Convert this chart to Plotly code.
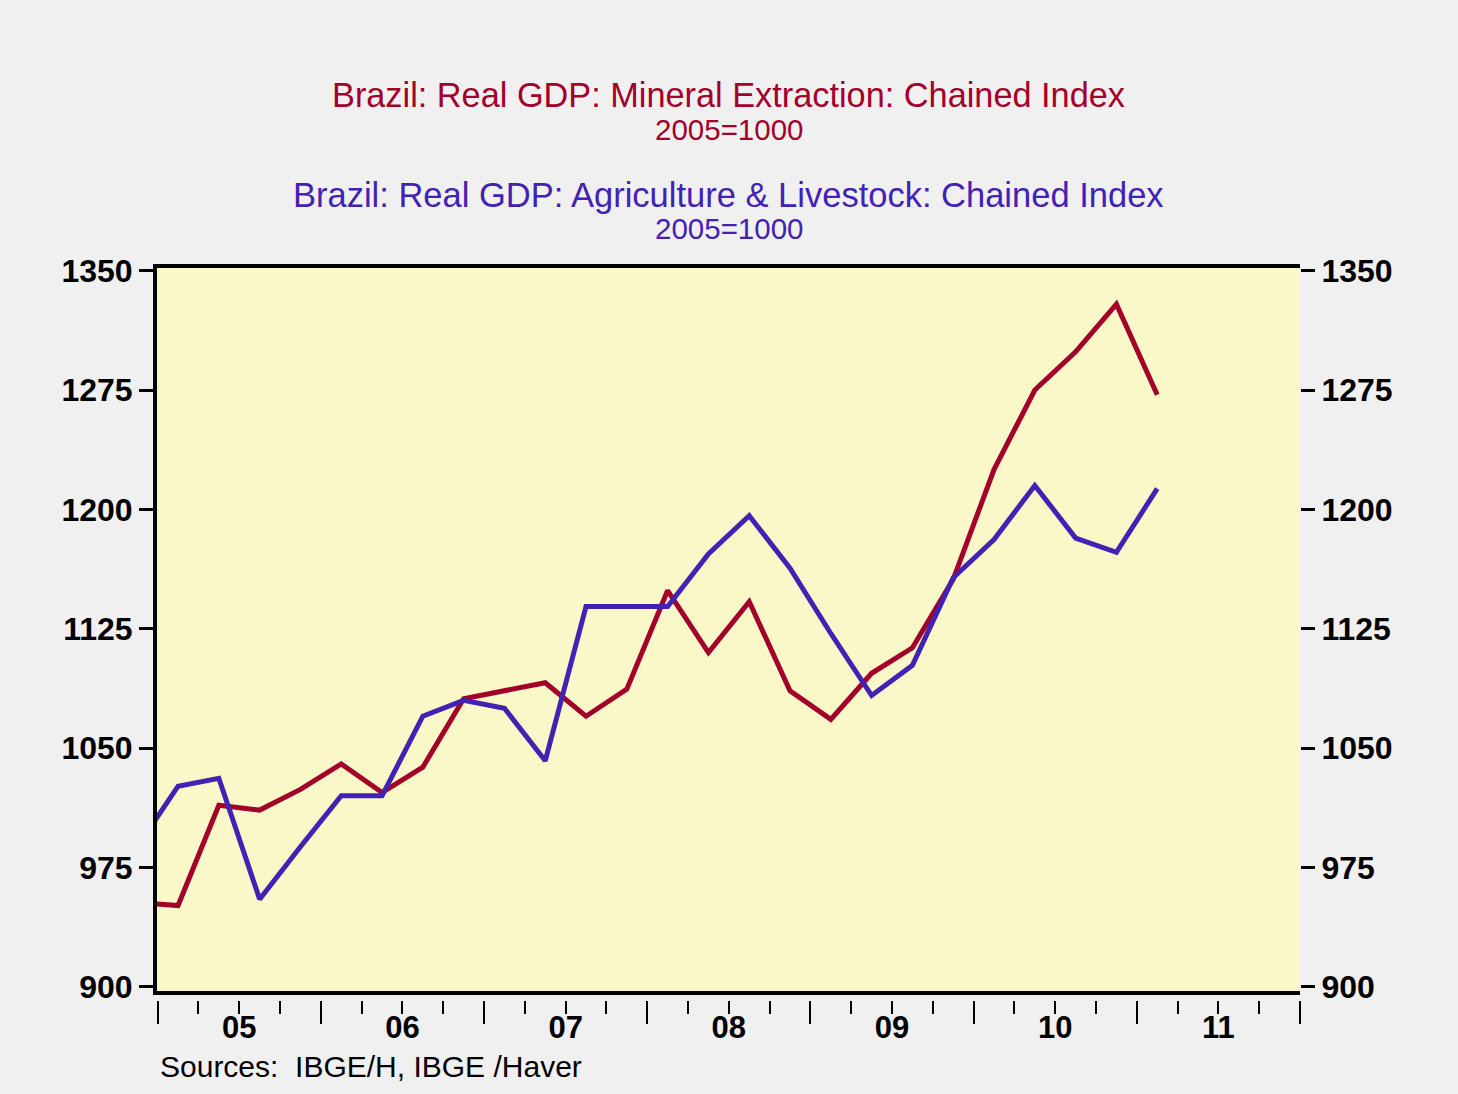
import plotly.graph_objects as go

quarters = ["2004Q4",
            "2005Q1", "2005Q2", "2005Q3", "2005Q4",
            "2006Q1", "2006Q2", "2006Q3", "2006Q4",
            "2007Q1", "2007Q2", "2007Q3", "2007Q4",
            "2008Q1", "2008Q2", "2008Q3", "2008Q4",
            "2009Q1", "2009Q2", "2009Q3", "2009Q4",
            "2010Q1", "2010Q2", "2010Q3", "2010Q4",
            "2011Q1"]

mineral = [953,
           951, 1014, 1011, 1024,
           1040, 1022, 1038, 1081,
           1086, 1091, 1070, 1087,
           1149, 1110, 1142, 1086,
           1068, 1097, 1113, 1156,
           1225, 1275, 1299, 1329,
           1272]

agri = [988,
        1026, 1031, 955, 988,
        1020, 1020, 1070, 1080,
        1075, 1042, 1139, 1139,
        1139, 1172, 1196, 1163,
        1122, 1083, 1102, 1157,
        1181, 1215, 1182, 1173,
        1213]

year_ticks = [2005, 2006, 2007, 2008, 2009, 2010, 2011, 2012]
year_label_pos = [2005.5, 2006.5, 2007.5, 2008.5, 2009.5, 2010.5, 2011.5]
year_labels = ["05", "06", "07", "08", "09", "10", "11"]
y_ticks = [900, 975, 1050, 1125, 1200, 1275, 1350]

title1 = "Brazil: Real GDP: Mineral Extraction: Chained Index"
title2 = "Brazil: Real GDP: Agriculture & Livestock: Chained Index"
subtitle = "2005=1000"
source = "Sources:  IBGE/H, IBGE /Haver"

RED = "#A3002A"
BLUE = "#4222B4"
FONT = "Arial, Liberation Sans, sans-serif"


def q_to_x(q):
    y, qq = q.split("Q")
    return int(y) + (int(qq) - 0.5) / 4.0


xs = [q_to_x(q) for q in quarters]

XR = [2004.996, 2012.0]
YR = [897.3, 1351.7]

W, H = 1458, 1094
ML, MR, MT = 157, 158, 268
REG_BOTTOM = 1090
MB = H - REG_BOTTOM
reg_h = REG_BOTTOM - MT


def py(pix):
    return (REG_BOTTOM - pix) / reg_h


fig = go.Figure()
fig.add_trace(go.Scatter(x=xs, y=mineral, mode="lines", line=dict(color=RED, width=5),
                         showlegend=False, hoverinfo="skip"))
fig.add_trace(go.Scatter(x=xs, y=agri, mode="lines", line=dict(color=BLUE, width=5),
                         showlegend=False, hoverinfo="skip"))
# helper traces so the overlay axes are drawn
fig.add_trace(go.Scatter(x=[2005], y=[None], xaxis="x2", yaxis="y", showlegend=False, hoverinfo="skip"))
fig.add_trace(go.Scatter(x=[2005], y=[None], xaxis="x3", yaxis="y", showlegend=False, hoverinfo="skip"))
fig.add_trace(go.Scatter(x=[2005], y=[None], xaxis="x", yaxis="y2", showlegend=False, hoverinfo="skip"))

ydom = [py(991), 1]
TICKFONT = dict(family=FONT, size=32, color="black", weight="bold")

fig.update_layout(
    width=W, height=H,
    margin=dict(l=ML, r=MR, t=MT, b=MB, pad=0, autoexpand=False),
    paper_bgcolor="#F0F0F0",
    plot_bgcolor="#FAF8C8",
    font=dict(family=FONT, color="black"),
    xaxis=dict(range=XR, showline=True, linecolor="black", linewidth=4, mirror=True,
               showgrid=False, zeroline=False, ticks="", showticklabels=False),
    xaxis2=dict(range=XR, overlaying="x", anchor="free", position=py(1000),
                showline=False, showgrid=False, zeroline=False,
                tickmode="array", tickvals=year_ticks, ticks="outside",
                ticklen=23, tickwidth=2, tickcolor="black", showticklabels=False,
                minor=dict(dtick=0.25, tick0=2005, ticks="outside", ticklen=13,
                           tickwidth=2, tickcolor="black", showgrid=False)),
    xaxis3=dict(range=XR, overlaying="x", anchor="free", position=py(1006),
                showline=False, showgrid=False, zeroline=False,
                tickmode="array", tickvals=year_label_pos, ticktext=year_labels,
                ticks="", tickfont=dict(family=FONT, size=31, color="black", weight="bold")),
    yaxis=dict(range=YR, domain=ydom, tickmode="array", tickvals=y_ticks,
               ticks="outside", ticklen=14, tickwidth=3, tickcolor="black",
               showgrid=False, zeroline=False, showline=True, linecolor="black", linewidth=4,
               tickfont=TICKFONT),
    yaxis2=dict(range=YR, domain=ydom, overlaying="y", side="right", anchor="x",
                tickmode="array", tickvals=y_ticks,
                ticks="outside", ticklen=14, tickwidth=3, tickcolor="black",
                showgrid=False, zeroline=False, showline=False,
                tickfont=TICKFONT),
)

annos = [
    (title1, 95, 34.3, RED),
    (subtitle, 129, 29.5, RED),
    (title2, 195, 34.5, BLUE),
    (subtitle, 229, 29.5, BLUE),
]
for text, ypix, size, col in annos:
    fig.add_annotation(text=text, xref="paper", yref="paper", x=0.5, y=py(ypix),
                       xanchor="center", yanchor="middle", showarrow=False,
                       font=dict(family=FONT, size=size, color=col))

fig.add_annotation(text=source, xref="paper", yref="paper", x=(158 - ML) / (W - ML - MR),
                   y=py(1066), xanchor="left", yanchor="middle", showarrow=False,
                   font=dict(family=FONT, size=30, color="black"))

fig.write_html("out.html", config={"displayModeBar": False},
               post_script="document.body.style.margin='0';document.body.style.padding='0';"
                           "document.body.style.overflow='hidden';")
